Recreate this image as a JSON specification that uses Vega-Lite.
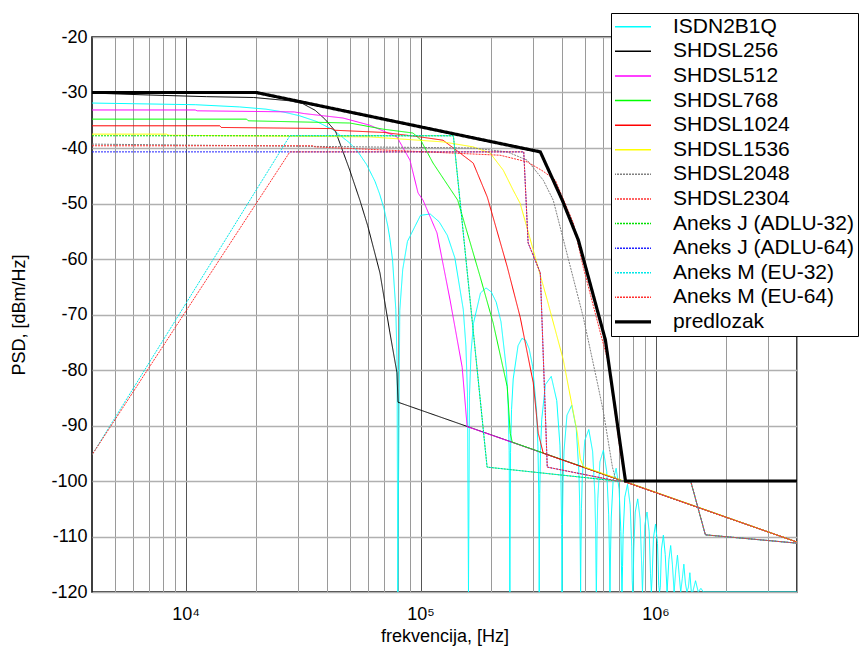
{
"$schema":"https://vega.github.io/schema/vega-lite/v6.json",
"width":705,"height":555,
"autosize":{"type":"none"},
"padding":{"left":92,"top":37,"right":68,"bottom":62},
"background":"white",
"config":{"font":"Liberation Sans","view":{"stroke":"black","strokeWidth":1.5},
 "legend":{"orient":"none","legendX":519,"legendY":-24,"title":null,"symbolType":"stroke","symbolSize":1369,"symbolOffset":7,"labelFontSize":21,"labelFont":"Liberation Sans","labelOffset":30,"labelColor":"black","labelLimit":0,"strokeColor":"black","fillColor":"white","padding":4,"rowPadding":2.6,"clipHeight":19.5}},
"data":{"values":[
{"s":"ISDN2B1Q","f":4000,"v":-31.9},{"s":"ISDN2B1Q","f":11000,"v":-32.2},{"s":"ISDN2B1Q","f":17000,"v":-32.6},{"s":"ISDN2B1Q","f":22000,"v":-33.0},{"s":"ISDN2B1Q","f":26000,"v":-33.5},{"s":"ISDN2B1Q","f":30600,"v":-34.2},{"s":"ISDN2B1Q","f":36000,"v":-35.2},{"s":"ISDN2B1Q","f":42400,"v":-36.7},{"s":"ISDN2B1Q","f":50000,"v":-39.1},{"s":"ISDN2B1Q","f":54000,"v":-40.6},{"s":"ISDN2B1Q","f":59000,"v":-43.0},{"s":"ISDN2B1Q","f":64000,"v":-46.0},{"s":"ISDN2B1Q","f":67000,"v":-48.3},{"s":"ISDN2B1Q","f":70000,"v":-51.0},{"s":"ISDN2B1Q","f":72600,"v":-54.1},{"s":"ISDN2B1Q","f":74000,"v":-56.2},{"s":"ISDN2B1Q","f":76000,"v":-60.1},{"s":"ISDN2B1Q","f":78500,"v":-69.1},{"s":"ISDN2B1Q","f":79500,"v":-78.9},{"s":"ISDN2B1Q","f":80000,"v":-120},
{"s":"ISDN2B1Q","f":81600,"v":-69.32},{"s":"ISDN2B1Q","f":84000,"v":-61.89},{"s":"ISDN2B1Q","f":88000,"v":-56.82},{"s":"ISDN2B1Q","f":100000,"v":-52.13},{"s":"ISDN2B1Q","f":110000,"v":-51.9},{"s":"ISDN2B1Q","f":120000,"v":-53.29},{"s":"ISDN2B1Q","f":130000,"v":-55.73},{"s":"ISDN2B1Q","f":140000,"v":-59.79},{"s":"ISDN2B1Q","f":152000,"v":-69.07},{"s":"ISDN2B1Q","f":156000,"v":-75.68},{"s":"ISDN2B1Q","f":158400,"v":-84.03},{"s":"ISDN2B1Q","f":160000,"v":-120},
{"s":"ISDN2B1Q","f":161600,"v":-84.54},{"s":"ISDN2B1Q","f":164000,"v":-76.95},{"s":"ISDN2B1Q","f":168000,"v":-71.6},{"s":"ISDN2B1Q","f":180000,"v":-66.11},{"s":"ISDN2B1Q","f":190000,"v":-65.21},{"s":"ISDN2B1Q","f":200000,"v":-65.93},{"s":"ISDN2B1Q","f":210000,"v":-67.79},{"s":"ISDN2B1Q","f":220000,"v":-71.29},{"s":"ISDN2B1Q","f":232000,"v":-79.88},{"s":"ISDN2B1Q","f":236000,"v":-86.26},{"s":"ISDN2B1Q","f":238400,"v":-94.47},{"s":"ISDN2B1Q","f":240000,"v":-120},
{"s":"ISDN2B1Q","f":241600,"v":-94.82},{"s":"ISDN2B1Q","f":244000,"v":-87.13},{"s":"ISDN2B1Q","f":248000,"v":-81.62},{"s":"ISDN2B1Q","f":260000,"v":-75.63},{"s":"ISDN2B1Q","f":270000,"v":-74.31},{"s":"ISDN2B1Q","f":280000,"v":-74.62},{"s":"ISDN2B1Q","f":290000,"v":-76.18},{"s":"ISDN2B1Q","f":300000,"v":-79.36},{"s":"ISDN2B1Q","f":312000,"v":-87.59},{"s":"ISDN2B1Q","f":316000,"v":-93.84},{"s":"ISDN2B1Q","f":318400,"v":-101.98},{"s":"ISDN2B1Q","f":320000,"v":-120},
{"s":"ISDN2B1Q","f":321600,"v":-102.24},{"s":"ISDN2B1Q","f":324000,"v":-94.5},{"s":"ISDN2B1Q","f":328000,"v":-88.89},{"s":"ISDN2B1Q","f":340000,"v":-82.63},{"s":"ISDN2B1Q","f":360000,"v":-81.15},{"s":"ISDN2B1Q","f":380000,"v":-85.53},{"s":"ISDN2B1Q","f":392000,"v":-93.54},{"s":"ISDN2B1Q","f":396000,"v":-99.73},{"s":"ISDN2B1Q","f":398400,"v":-107.82},{"s":"ISDN2B1Q","f":400000,"v":-120},
{"s":"ISDN2B1Q","f":401600,"v":-108.03},{"s":"ISDN2B1Q","f":404000,"v":-100.25},{"s":"ISDN2B1Q","f":408000,"v":-94.59},{"s":"ISDN2B1Q","f":420000,"v":-88.14},{"s":"ISDN2B1Q","f":440000,"v":-86.37},{"s":"ISDN2B1Q","f":460000,"v":-90.52},{"s":"ISDN2B1Q","f":472000,"v":-98.39},{"s":"ISDN2B1Q","f":476000,"v":-104.52},{"s":"ISDN2B1Q","f":478400,"v":-112.59},{"s":"ISDN2B1Q","f":480000,"v":-120},
{"s":"ISDN2B1Q","f":481600,"v":-112.76},{"s":"ISDN2B1Q","f":484000,"v":-104.96},{"s":"ISDN2B1Q","f":488000,"v":-99.26},{"s":"ISDN2B1Q","f":500000,"v":-92.69},{"s":"ISDN2B1Q","f":520000,"v":-90.72},{"s":"ISDN2B1Q","f":540000,"v":-94.7},{"s":"ISDN2B1Q","f":552000,"v":-102.46},{"s":"ISDN2B1Q","f":556000,"v":-108.57},{"s":"ISDN2B1Q","f":558400,"v":-116.61},{"s":"ISDN2B1Q","f":560000,"v":-120},
{"s":"ISDN2B1Q","f":561600,"v":-116.76},{"s":"ISDN2B1Q","f":564000,"v":-108.94},{"s":"ISDN2B1Q","f":568000,"v":-103.21},{"s":"ISDN2B1Q","f":580000,"v":-96.56},{"s":"ISDN2B1Q","f":600000,"v":-94.45},{"s":"ISDN2B1Q","f":620000,"v":-98.3},{"s":"ISDN2B1Q","f":632000,"v":-105.99},{"s":"ISDN2B1Q","f":636000,"v":-112.07},{"s":"ISDN2B1Q","f":640000,"v":-120},
{"s":"ISDN2B1Q","f":644000,"v":-112.4},{"s":"ISDN2B1Q","f":648000,"v":-106.65},{"s":"ISDN2B1Q","f":660000,"v":-99.93},{"s":"ISDN2B1Q","f":680000,"v":-97.71},{"s":"ISDN2B1Q","f":700000,"v":-101.47},{"s":"ISDN2B1Q","f":712000,"v":-109.1},{"s":"ISDN2B1Q","f":716000,"v":-115.16},{"s":"ISDN2B1Q","f":720000,"v":-120},
{"s":"ISDN2B1Q","f":724000,"v":-115.45},{"s":"ISDN2B1Q","f":728000,"v":-109.68},{"s":"ISDN2B1Q","f":740000,"v":-102.92},{"s":"ISDN2B1Q","f":760000,"v":-100.61},{"s":"ISDN2B1Q","f":780000,"v":-104.29},{"s":"ISDN2B1Q","f":792000,"v":-111.87},{"s":"ISDN2B1Q","f":796000,"v":-117.92},{"s":"ISDN2B1Q","f":800000,"v":-120},
{"s":"ISDN2B1Q","f":804000,"v":-118.18},{"s":"ISDN2B1Q","f":808000,"v":-112.4},{"s":"ISDN2B1Q","f":820000,"v":-105.59},{"s":"ISDN2B1Q","f":840000,"v":-103.22},{"s":"ISDN2B1Q","f":860000,"v":-106.84},{"s":"ISDN2B1Q","f":872000,"v":-114.39},{"s":"ISDN2B1Q","f":880000,"v":-120},
{"s":"ISDN2B1Q","f":888000,"v":-114.86},{"s":"ISDN2B1Q","f":900000,"v":-108.02},{"s":"ISDN2B1Q","f":920000,"v":-105.59},{"s":"ISDN2B1Q","f":940000,"v":-109.15},{"s":"ISDN2B1Q","f":952000,"v":-116.67},{"s":"ISDN2B1Q","f":960000,"v":-120},
{"s":"ISDN2B1Q","f":968000,"v":-117.1},{"s":"ISDN2B1Q","f":980000,"v":-110.24},{"s":"ISDN2B1Q","f":1000000,"v":-107.76},{"s":"ISDN2B1Q","f":1020000,"v":-111.28},{"s":"ISDN2B1Q","f":1032000,"v":-118.78},{"s":"ISDN2B1Q","f":1040000,"v":-120},
{"s":"ISDN2B1Q","f":1048000,"v":-119.18},{"s":"ISDN2B1Q","f":1060000,"v":-112.28},{"s":"ISDN2B1Q","f":1080000,"v":-109.76},{"s":"ISDN2B1Q","f":1100000,"v":-113.25},{"s":"ISDN2B1Q","f":1120000,"v":-120},
{"s":"ISDN2B1Q","f":1140000,"v":-114.18},{"s":"ISDN2B1Q","f":1160000,"v":-111.63},{"s":"ISDN2B1Q","f":1180000,"v":-115.08},{"s":"ISDN2B1Q","f":1200000,"v":-120},
{"s":"ISDN2B1Q","f":1220000,"v":-115.95},{"s":"ISDN2B1Q","f":1240000,"v":-113.36},{"s":"ISDN2B1Q","f":1260000,"v":-116.79},{"s":"ISDN2B1Q","f":1280000,"v":-120},
{"s":"ISDN2B1Q","f":1300000,"v":-117.6},{"s":"ISDN2B1Q","f":1320000,"v":-114.99},{"s":"ISDN2B1Q","f":1340000,"v":-118.39},{"s":"ISDN2B1Q","f":1360000,"v":-120},
{"s":"ISDN2B1Q","f":1380000,"v":-119.16},{"s":"ISDN2B1Q","f":1400000,"v":-116.53},{"s":"ISDN2B1Q","f":1420000,"v":-119.91},{"s":"ISDN2B1Q","f":1440000,"v":-120},
{"s":"ISDN2B1Q","f":1480000,"v":-117.97},{"s":"ISDN2B1Q","f":1520000,"v":-120},{"s":"ISDN2B1Q","f":1560000,"v":-119.35},{"s":"ISDN2B1Q","f":1600000,"v":-120},{"s":"ISDN2B1Q","f":4000000,"v":-120},

{"s":"SHDSL256","f":4000,"v":-30.1},{"s":"SHDSL256","f":6400,"v":-30.4},{"s":"SHDSL256","f":12300,"v":-30.75},{"s":"SHDSL256","f":19500,"v":-30.9},{"s":"SHDSL256","f":27800,"v":-31.5},{"s":"SHDSL256","f":31500,"v":-32},{"s":"SHDSL256","f":35600,"v":-33.2},{"s":"SHDSL256","f":39200,"v":-34.8},{"s":"SHDSL256","f":43500,"v":-37},{"s":"SHDSL256","f":50000,"v":-44},{"s":"SHDSL256","f":55200,"v":-49.4},{"s":"SHDSL256","f":59600,"v":-54},{"s":"SHDSL256","f":67200,"v":-62.5},{"s":"SHDSL256","f":74100,"v":-73.3},{"s":"SHDSL256","f":79400,"v":-80.5},{"s":"SHDSL256","f":80200,"v":-85.8},{"s":"SHDSL256","f":4000000,"v":-111},

{"s":"SHDSL512","f":4000,"v":-33.15},{"s":"SHDSL512","f":11000,"v":-33.15},{"s":"SHDSL512","f":11200,"v":-33.3},{"s":"SHDSL512","f":29000,"v":-33.5},{"s":"SHDSL512","f":32000,"v":-33.8},{"s":"SHDSL512","f":46800,"v":-34.6},{"s":"SHDSL512","f":60900,"v":-35.9},{"s":"SHDSL512","f":79400,"v":-38},{"s":"SHDSL512","f":90200,"v":-42.2},{"s":"SHDSL512","f":97600,"v":-48.1},{"s":"SHDSL512","f":102500,"v":-49.4},{"s":"SHDSL512","f":117500,"v":-55.3},{"s":"SHDSL512","f":133600,"v":-67.4},{"s":"SHDSL512","f":150400,"v":-79.5},{"s":"SHDSL512","f":157900,"v":-90.2},{"s":"SHDSL512","f":4000000,"v":-111},

{"s":"SHDSL768","f":4000,"v":-34.8},{"s":"SHDSL768","f":18200,"v":-34.8},{"s":"SHDSL768","f":18500,"v":-35.1},{"s":"SHDSL768","f":50000,"v":-35.5},{"s":"SHDSL768","f":69200,"v":-36.6},{"s":"SHDSL768","f":92900,"v":-37.3},{"s":"SHDSL768","f":100000,"v":-38.5},{"s":"SHDSL768","f":113000,"v":-42.7},{"s":"SHDSL768","f":144000,"v":-49.4},{"s":"SHDSL768","f":179400,"v":-63.2},{"s":"SHDSL768","f":203700,"v":-71.5},{"s":"SHDSL768","f":233900,"v":-83},{"s":"SHDSL768","f":240900,"v":-91.4},{"s":"SHDSL768","f":245600,"v":-93},{"s":"SHDSL768","f":4000000,"v":-111},

{"s":"SHDSL1024","f":4000,"v":-36},{"s":"SHDSL1024","f":14000,"v":-36},{"s":"SHDSL1024","f":14200,"v":-36.3},{"s":"SHDSL1024","f":42000,"v":-36.5},{"s":"SHDSL1024","f":43000,"v":-36.8},{"s":"SHDSL1024","f":70000,"v":-37.2},{"s":"SHDSL1024","f":99600,"v":-38},{"s":"SHDSL1024","f":124700,"v":-38.6},{"s":"SHDSL1024","f":167500,"v":-42.7},{"s":"SHDSL1024","f":192200,"v":-48.8},{"s":"SHDSL1024","f":194100,"v":-49.4},{"s":"SHDSL1024","f":233900,"v":-61.4},{"s":"SHDSL1024","f":265600,"v":-70.5},{"s":"SHDSL1024","f":301800,"v":-82.3},{"s":"SHDSL1024","f":317000,"v":-91.4},{"s":"SHDSL1024","f":332900,"v":-95},{"s":"SHDSL1024","f":4000000,"v":-111},

{"s":"SHDSL1536","f":4000,"v":-37.5},{"s":"SHDSL1536","f":8300,"v":-37.5},{"s":"SHDSL1536","f":8500,"v":-37.7},{"s":"SHDSL1536","f":60900,"v":-38},{"s":"SHDSL1536","f":124700,"v":-38.9},{"s":"SHDSL1536","f":167500,"v":-39.8},{"s":"SHDSL1536","f":197800,"v":-40.9},{"s":"SHDSL1536","f":224900,"v":-44},{"s":"SHDSL1536","f":247900,"v":-47.6},{"s":"SHDSL1536","f":265600,"v":-50},{"s":"SHDSL1536","f":346200,"v":-67.4},{"s":"SHDSL1536","f":405300,"v":-78.2},{"s":"SHDSL1536","f":464800,"v":-91.4},{"s":"SHDSL1536","f":478600,"v":-96},{"s":"SHDSL1536","f":492800,"v":-97.4},{"s":"SHDSL1536","f":4000000,"v":-111},

{"s":"SHDSL2048","f":4000,"v":-39.3},{"s":"SHDSL2048","f":167500,"v":-40},{"s":"SHDSL2048","f":233900,"v":-40.7},{"s":"SHDSL2048","f":284500,"v":-42.2},{"s":"SHDSL2048","f":332900,"v":-45.8},{"s":"SHDSL2048","f":367100,"v":-49.4},{"s":"SHDSL2048","f":434100,"v":-61.4},{"s":"SHDSL2048","f":492800,"v":-70.5},{"s":"SHDSL2048","f":565800,"v":-82.3},{"s":"SHDSL2048","f":599900,"v":-87.5},{"s":"SHDSL2048","f":630000,"v":-93},{"s":"SHDSL2048","f":655700,"v":-97.5},{"s":"SHDSL2048","f":675000,"v":-99.5},{"s":"SHDSL2048","f":4000000,"v":-111},

{"s":"SHDSL2304","f":4000,"v":-39.6},{"s":"SHDSL2304","f":34800,"v":-39.6},{"s":"SHDSL2304","f":35500,"v":-39.8},{"s":"SHDSL2304","f":218000,"v":-41.3},{"s":"SHDSL2304","f":284500,"v":-42.5},{"s":"SHDSL2304","f":332900,"v":-44.2},{"s":"SHDSL2304","f":374600,"v":-45.8},{"s":"SHDSL2304","f":447000,"v":-53.5},{"s":"SHDSL2304","f":492800,"v":-61.5},{"s":"SHDSL2304","f":582600,"v":-73.3},{"s":"SHDSL2304","f":630400,"v":-78.7},{"s":"SHDSL2304","f":709000,"v":-95},{"s":"SHDSL2304","f":745000,"v":-100.15},{"s":"SHDSL2304","f":4000000,"v":-111},

{"s":"Aneks J (ADLU-32)","f":4000,"v":-37.8},{"s":"Aneks J (ADLU-32)","f":138000,"v":-37.8},{"s":"Aneks J (ADLU-32)","f":192000,"v":-97.5},{"s":"Aneks J (ADLU-32)","f":686000,"v":-100},{"s":"Aneks J (ADLU-32)","f":1411000,"v":-100},{"s":"Aneks J (ADLU-32)","f":1630000,"v":-109.7},{"s":"Aneks J (ADLU-32)","f":4000000,"v":-111.2},

{"s":"Aneks J (ADLU-64)","f":4000,"v":-40.7},{"s":"Aneks J (ADLU-64)","f":275000,"v":-40.7},{"s":"Aneks J (ADLU-64)","f":287000,"v":-57.1},{"s":"Aneks J (ADLU-64)","f":323400,"v":-62.5},{"s":"Aneks J (ADLU-64)","f":346200,"v":-97.5},{"s":"Aneks J (ADLU-64)","f":686000,"v":-100},{"s":"Aneks J (ADLU-64)","f":1411000,"v":-100},{"s":"Aneks J (ADLU-64)","f":1630000,"v":-109.7},{"s":"Aneks J (ADLU-64)","f":4000000,"v":-111.2},

{"s":"Aneks M (EU-32)","f":4000,"v":-95.3},{"s":"Aneks M (EU-32)","f":27800,"v":-37.8},{"s":"Aneks M (EU-32)","f":138000,"v":-37.8},{"s":"Aneks M (EU-32)","f":192000,"v":-97.5},{"s":"Aneks M (EU-32)","f":686000,"v":-100},{"s":"Aneks M (EU-32)","f":1411000,"v":-100},{"s":"Aneks M (EU-32)","f":1630000,"v":-109.7},{"s":"Aneks M (EU-32)","f":4000000,"v":-111.2},

{"s":"Aneks M (EU-64)","f":4000,"v":-95.3},{"s":"Aneks M (EU-64)","f":27800,"v":-40.7},{"s":"Aneks M (EU-64)","f":275000,"v":-40.7},{"s":"Aneks M (EU-64)","f":287000,"v":-57.1},{"s":"Aneks M (EU-64)","f":323400,"v":-62.5},{"s":"Aneks M (EU-64)","f":346200,"v":-97.5},{"s":"Aneks M (EU-64)","f":686000,"v":-100},{"s":"Aneks M (EU-64)","f":1411000,"v":-100},{"s":"Aneks M (EU-64)","f":1630000,"v":-109.7},{"s":"Aneks M (EU-64)","f":4000000,"v":-111.2},

{"s":"predlozak","f":4000,"v":-30},{"s":"predlozak","f":20000,"v":-30},{"s":"predlozak","f":323400,"v":-40.7},{"s":"predlozak","f":401000,"v":-49.4},{"s":"predlozak","f":469500,"v":-56.6},{"s":"predlozak","f":612000,"v":-74.6},{"s":"predlozak","f":745000,"v":-100},{"s":"predlozak","f":4000000,"v":-100}
]},
"encoding":{
"x":{"field":"f","type":"quantitative","scale":{"type":"log","domain":[4000,4000000],"nice":false},
 "axis":{"title":"frekvencija, [Hz]","values":[5000,6000,7000,8000,9000,10000,20000,30000,40000,50000,60000,70000,80000,90000,100000,200000,300000,400000,500000,600000,700000,800000,900000,1000000,2000000,3000000,4000000],
 "labelExpr":"datum.value==10000?'10⁴':datum.value==100000?'10⁵':datum.value==1000000?'10⁶':''",
 "labelOverlap":false,"labelFlush":false,"grid":true,
 "gridColor":{"condition":{"test":"datum.value==10000||datum.value==100000||datum.value==1000000","value":"#555555"},"value":"#9a9a9a"},
 "gridWidth":1,"ticks":false,"domain":false,"labelFontSize":18,"labelPadding":13,"labelColor":"black",
 "titleFontSize":18,"titleFontWeight":"normal","titleColor":"black","titlePadding":4}},
"y":{"field":"v","type":"quantitative","scale":{"domain":[-120,-20],"nice":false},
 "axis":{"title":"PSD, [dBm/Hz]","values":[-120,-110,-100,-90,-80,-70,-60,-50,-40,-30,-20],"labelExpr":"''+datum.value",
 "grid":true,"gridColor":"#b0b0b0","gridWidth":1.5,"ticks":false,"domain":false,"labelFontSize":18,"labelPadding":5,"labelColor":"black",
 "titleFontSize":18,"titleFontWeight":"normal","titleColor":"black","titlePadding":22}},
"color":{"field":"s","type":"nominal",
 "scale":{"domain":["ISDN2B1Q","SHDSL256","SHDSL512","SHDSL768","SHDSL1024","SHDSL1536","SHDSL2048","SHDSL2304","Aneks J (ADLU-32)","Aneks J (ADLU-64)","Aneks M (EU-32)","Aneks M (EU-64)","predlozak"],
 "range":["#00ffff","#000000","#ff00ff","#00ff00","#ff0000","#ffff00","#808080","#ff3030","#00e000","#2020ff","#00e8e8","#ff3030","#000000"]},
 "legend":{"orient":"none","legendX":519,"legendY":-24,"title":null,"labelOffset":30,
  "encode":{"symbols":{"update":{"size":{"value":1369},"strokeWidth":{"signal":"datum.label=='predlozak'?3.2:1.5"}}}}}},
"strokeDash":{"field":"s","type":"nominal",
 "scale":{"domain":["ISDN2B1Q","SHDSL256","SHDSL512","SHDSL768","SHDSL1024","SHDSL1536","SHDSL2048","SHDSL2304","Aneks J (ADLU-32)","Aneks J (ADLU-64)","Aneks M (EU-32)","Aneks M (EU-64)","predlozak"],
 "range":[[1,0],[1,0],[1,0],[1,0],[1,0],[1,0],[2,1],[2,1],[2,1],[2,1],[2,1],[2,1],[1,0]]},
 "legend":{"orient":"none","legendX":519,"legendY":-24,"title":null,"labelOffset":30,
  "encode":{"symbols":{"update":{"size":{"value":1369},"strokeWidth":{"signal":"datum.label=='predlozak'?3.2:1.5"}}}}}}
},
"layer":[
{"transform":[{"filter":"datum.s!='Aneks M (EU-32)'&&datum.s!='Aneks M (EU-64)'&&datum.s!='predlozak'"}],"mark":{"type":"line","clip":true,"strokeWidth":1}},
{"transform":[{"filter":"datum.s=='Aneks M (EU-32)'||datum.s=='Aneks M (EU-64)'"}],"mark":{"type":"line","clip":true,"strokeWidth":1,"strokeDashOffset":1.5}},
{"transform":[{"filter":"datum.s=='predlozak'"}],"mark":{"type":"line","clip":true,"strokeWidth":3.2}}
]
}
